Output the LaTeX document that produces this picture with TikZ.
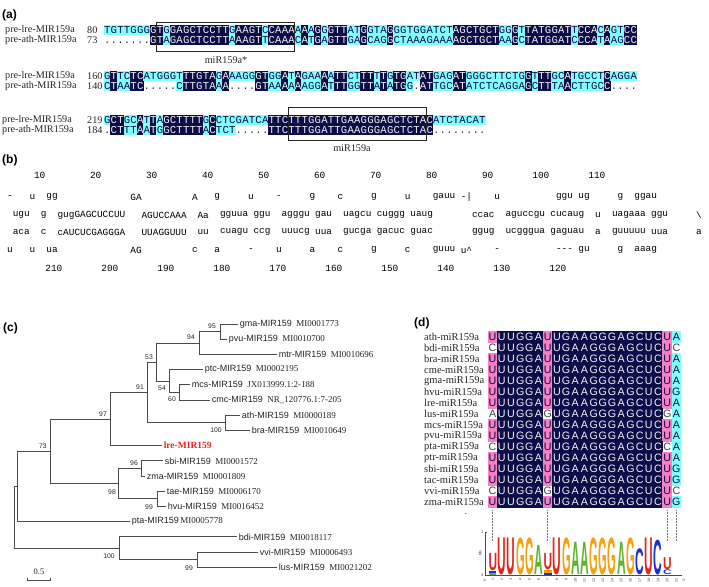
\documentclass[tikz,border=0pt]{standalone}
\usepackage{fontspec}
\usepackage{graphicx}
\usetikzlibrary{calc}
\setmainfont{Liberation Serif}
\setsansfont{Liberation Sans}
\setmonofont{Liberation Mono}
\definecolor{navy}{HTML}{0C0C48}
\definecolor{aq}{HTML}{80FFFF}
\definecolor{pk}{HTML}{F77FC4}
\definecolor{br}{HTML}{4A4A4A}
\definecolor{lgU}{HTML}{E3261C}
\definecolor{lgG}{HTML}{F4A10E}
\definecolor{lgA}{HTML}{5DB52C}
\definecolor{lgC}{HTML}{1F2FD0}
\definecolor{redlab}{HTML}{E8231E}
\newcommand\alpitch{6.58}
\newcommand\alfont{\ttfamily\fontsize{10.6}{10.6}\selectfont}
\newcommand\dtop{337}
\newcommand\dstep{11.0}
\newcommand\AlnCell[8]{%
  \pgfmathsetmacro\alx{#1+(#4-0.5)*\alpitch}%
  \path (\alx,#2) node[cell#7]{#5} (\alx,#3) node[cell#8]{#6};%
}
\newcommand\DCell[4]{%
  \pgfmathsetmacro\dx{488+(#2-0.5)*9.19}%
  \pgfmathsetmacro\dy{\dtop+#1*\dstep}%
  \path (\dx,\dy) node[d#4]{#3};%
}
\newcommand\LogoL[5]{%
  \pgfmathsetmacro\lgx{488+(#1-1)*9.19+0.3}%
  \pgfmathsetmacro\lgy{575-#2*21.5}%
  \pgfmathsetmacro\lgh{#3*21.5}%
  \node[anchor=south west, inner sep=0pt] at (\lgx,\lgy) {\resizebox{8.6pt}{\lgh pt}{\textcolor{#5}{\sffamily\bfseries #4}}};%
}
\newcommand\LogoBar[4]{%
  \pgfmathsetmacro\lgx{488+(#1-1)*9.19+0.8}%
  \pgfmathsetmacro\lgy{575-#2*21.5}%
  \pgfmathsetmacro\lgh{#3*21.5}%
  \fill[#4] (\lgx,\lgy) rectangle ++(7.6,-\lgh);%
}
\ExplSyntaxOn
\tl_new:N \l_al_a_tl
\tl_new:N \l_al_b_tl
\tl_new:N \l_al_ta_tl
\tl_new:N \l_al_tb_tl
\NewDocumentCommand \AlnPair { m m m m m }
 {
   \int_step_inline:nn { \str_count:n {#4} }
    {
      \tl_set:Nx \l_al_a_tl { \str_item:nn {#4} {##1} }
      \tl_set:Nx \l_al_b_tl { \str_item:nn {#5} {##1} }
      \str_if_eq:VnTF \l_al_a_tl {.}
        {
          \tl_set:Nn \l_al_ta_tl {p}
          \str_if_eq:VnTF \l_al_b_tl {.}
            { \tl_set:Nn \l_al_tb_tl {p} }
            { \tl_set:Nn \l_al_tb_tl {c} }
        }
        {
          \str_if_eq:VnTF \l_al_b_tl {.}
            { \tl_set:Nn \l_al_ta_tl {c} \tl_set:Nn \l_al_tb_tl {p} }
            {
              \str_if_eq:VVTF \l_al_a_tl \l_al_b_tl
                { \tl_set:Nn \l_al_ta_tl {n} \tl_set:Nn \l_al_tb_tl {n} }
                { \tl_set:Nn \l_al_ta_tl {c} \tl_set:Nn \l_al_tb_tl {c} }
            }
        }
      \use:x { \exp_not:N \AlnCell {#1} {#2} {#3} {##1} {\l_al_a_tl} {\l_al_b_tl} {\l_al_ta_tl} {\l_al_tb_tl} }
    }
 }
\cs_new_protected:Npn \al_side:
 { \str_if_eq:VnTF \l_al_a_tl {U} { \tl_set:Nn \l_al_ta_tl {k} } { \tl_set:Nn \l_al_ta_tl {w} } }
\cs_new_protected:Npn \al_last:
 { \str_if_eq:VnTF \l_al_a_tl {C} { \tl_set:Nn \l_al_ta_tl {w} } { \tl_set:Nn \l_al_ta_tl {q} } }
\NewDocumentCommand \DRow { m m }
 {
   \int_step_inline:nn {21}
    {
      \tl_set:Nx \l_al_a_tl { \str_item:nn {#2} {##1} }
      \int_case:nnF {##1}
        { {1}{\al_side:} {7}{\al_side:} {20}{\al_side:} {21}{\al_last:} }
        { \tl_set:Nn \l_al_ta_tl {n} }
      \use:x { \exp_not:N \DCell {#1} {##1} {\l_al_a_tl} {\l_al_ta_tl} }
    }
 }
\ExplSyntaxOff
\begin{document}
\begin{tikzpicture}[x=1pt,y=-1pt,
  panel/.style={font=\sffamily\bfseries\fontsize{12}{12}\selectfont, anchor=west, inner sep=0pt},
  cellbase/.style={inner sep=0pt, minimum width=6.98pt, minimum height=10.4pt, text height=6.3pt, text depth=0pt, font=\alfont},
  celln/.style={cellbase, fill=navy, text=white!88!gray},
  cellc/.style={cellbase, fill=aq, text=navy},
  cellp/.style={cellbase, text=black!80},
  seqname/.style={font=\fontsize{10.2}{10.2}\selectfont, anchor=west, inner sep=0pt, text=black!85},
  mirlab/.style={font=\fontsize{10.2}{10.2}\selectfont, inner sep=0pt, text=black!85},
  mirbox/.style={draw=black!85, line width=1pt},
  rna/.style={font=\ttfamily\fontsize{9.4}{9.4}\selectfont, anchor=west, inner sep=0pt, text=black},
  rnanum/.style={font=\ttfamily\fontsize{9.4}{9.4}\selectfont, anchor=east, inner sep=0pt, text=black},
  brl/.style={draw=br, line width=0.75pt},
  leaf/.style={anchor=west, inner sep=1.6pt, text=black!85, font=\fontsize{9}{9}\selectfont},
  boot/.style={font=\sffamily\fontsize{6.8}{6.8}\selectfont, inner sep=0pt, text=black!85},
  dbase/.style={inner sep=0pt, minimum width=9.6pt, minimum height=11.4pt, text height=7.7pt, text depth=0pt, font=\sffamily\fontsize{10.7}{10.7}\selectfont},
  dn/.style={dbase, fill=navy, text=white!90!gray},
  dk/.style={dbase, fill=pk, text=navy},
  dw/.style={dbase, text=black!75},
  dq/.style={dbase, fill=aq, text=navy},
  dname/.style={font=\fontsize{10.5}{10.5}\selectfont, anchor=west, inner sep=0pt, text=black!85},
  tiny/.style={font=\sffamily\fontsize{3.6}{3.6}\selectfont, inner sep=0.4pt, text=black!80}
]
\useasboundingbox (0,0) rectangle (709,586);
\fill[white] (0,0) rectangle (709,586);

%%%%%%%% (a)
\node[panel] (pa) at (2,15) {(a)};
\node[seqname] (n1a) at (5,30) {pre-lre-MIR159a};
\node[seqname] (n1b) at (5,40) {pre-ath-MIR159a};
\node[seqname] (s1a) at (87,30) {80};
\node[seqname] (s1b) at (87,40) {73};
\AlnPair{104}{30}{40}{TGTTGGGGTGGAGCTCCTTGAAGTCCAAAAAAGGGTTATGGTAGGGTGGATCTAGCTGCTGGGTTATGGATTCCACAGTCC}{.......GTAGAGCTCCTTAAAGTTCAAACATGAGTTGAGCAGGCTAAAGAAAAGCTGCTAAGCTATGGATCCCATAAGCC}
\draw[mirbox] (156.6,23) rectangle (294.8,52);
\node[mirlab] (star) at (226,60) {miR159a*};

\node[seqname] (n2a) at (5,76) {pre-lre-MIR159a};
\node[seqname] (n2b) at (5,86) {pre-ath-MIR159a};
\node[seqname] (s2a) at (87,76) {160};
\node[seqname] (s2b) at (87,86) {140};
\AlnPair{104}{76}{86}{GTTCTCATGGGTTTGTAGAAAGGGTGGATAGAAAATTCTTTTTGTGATATGAGATGGGCTTCTGGTTTGCATGCCTCAGGA}{CTAATC.....CTTGTAAA....GTAAAAAAGGATTTGGTTATATGG.ATTGCATATCTCAGGAGCTTTAACTTGCC....}

\node[seqname] (n3a) at (2,120) {pre-lre-MIR159a};
\node[seqname] (n3b) at (2,130) {pre-ath-MIR159a};
\node[seqname] (s3a) at (87,120) {219};
\node[seqname] (s3b) at (87,130) {184};
\AlnPair{104}{120}{130}{GCTGCATTAGCTTTTGCCTCGATCATTCTTTGGATTGAAGGGAGCTCTACATCTACAT}{.CTTTAATGGCTTTTACTCT.....TTCTTTGGATTGAAGGGAGCTCTAC........}
\draw[mirbox] (288.2,107) rectangle (426.4,140);
\node[mirlab] (mat) at (352,148) {miR159a};

%%%%%%%% (b)
\node[panel] (pb) at (2,160) {(b)};
\foreach \v [count=\k from 0] in {10,20,...,110}
  \node[rnanum] (tn\v) at ({45.5+56*\k},175) {\v};
\foreach \v [count=\k from 0] in {210,200,...,120}
  \node[rnanum] (bn\v) at ({62.5+56*\k},268) {\v};
\foreach \c/\t in {0/-,4/u,7/gg,22/GA,33/A,37/g,43/u,48/-,54/g,59/c,65/g,71/u,76/gauu,81/-|,87/u,98/ggu,102/ug,109/g,112/ggau}
  \node[rna] (ra\c) at ({7+\c*5.6},197) {\t};
\foreach \c/\t in {1/ugu,6/g,9/gugGAGCUCCUU,24/AGUCCAAA,34/Aa,38/gguua,44/ggu,49/agggu,55/gau,60/uagcu,66/cuggg,72/uaug,83/ccac,89/aguccgu,97/cucaug,105/u,108/uagaaa,115/ggu,123/\textbackslash}
  \node[rna] (rb\c) at ({7+\c*5.6},215) {\t};
\foreach \c/\t in {1/aca,6/c,9/cAUCUCGAGGGA,24/UUAGGUUU,34/uu,38/cuagu,44/ccg,49/uuucg,55/uua,60/gucga,66/gacuc,72/guac,83/ggug,89/ucgggua,97/gaguau,105/a,108/guuuuu,115/uua,123/a}
  \node[rna] (rc\c) at ({7+\c*5.6},232) {\t};
\foreach \c/\t in {0/u,4/u,7/ua,22/AG,33/c,37/a,43/-,48/u,54/a,59/c,65/g,71/c,76/guuu,81/u\textasciicircum,87/-,98/-{}-{}-,102/gu,109/g,112/aaag}
  \node[rna] (rd\c) at ({7+\c*5.6},250) {\t};

%%%%%%%% (c)
\node[panel] (pc) at (3,328) {(c)};
\coordinate (gma) at (238,324.0);
\coordinate (pvu) at (227,339.2);
\coordinate (mtr) at (277,354.4);
\coordinate (ptc) at (203,369.6);
\coordinate (mcs) at (190,384.8);
\coordinate (cmc) at (210,400.0);
\coordinate (ath) at (240,415.2);
\coordinate (bra) at (250,430.4);
\coordinate (lre) at (162,445.6);
\coordinate (sbi) at (163,460.8);
\coordinate (zma) at (145,476.0);
\coordinate (tae) at (165,491.2);
\coordinate (hvu) at (166,506.4);
\coordinate (pta) at (130,521.6);
\coordinate (bdi) at (237,536.8);
\coordinate (vvi) at (258,552.0);
\coordinate (lus) at (277,567.2);
\coordinate (n95) at (220,331.6);
\coordinate (n94) at (199,343.0);
\coordinate (n60) at (179,392.4);
\coordinate (n54) at (169,381.0);
\coordinate (n53) at (156,362.0);
\coordinate (n100a) at (225,422.8);
\coordinate (n91) at (147,392.4);
\coordinate (n97) at (110,419.0);
\coordinate (n96) at (141,468.4);
\coordinate (n99a) at (157,498.8);
\coordinate (n98) at (118,483.6);
\coordinate (n73) at (50,451.3);
\coordinate (nX) at (17,486.5);
\coordinate (n99b) at (197,559.6);
\coordinate (n100b) at (119,548.2);
\coordinate (root) at (14,517.3);
\foreach \p/\a/\b in {n95/gma/pvu, n94/n95/mtr, n60/mcs/cmc, n54/ptc/n60, n53/n94/n54, n100a/ath/bra, n91/n53/n100a, n97/n91/lre, n96/sbi/zma, n99a/tae/hvu, n98/n96/n99a, n73/n97/n98, nX/n73/pta, n99b/vvi/lus, n100b/bdi/n99b, root/nX/n100b}
  \draw[brl] (\p) |- (\a) (\p) |- (\b);
\newcommand\lf[2]{{\sffamily #1}\hspace{4.5pt}{\rmfamily #2}}
\node[leaf] (lgma) at (gma) {\lf{gma-MIR159}{MI0001773}};
\node[leaf] (lpvu) at (pvu) {\lf{pvu-MIR159}{MI0010700}};
\node[leaf] (lmtr) at (mtr) {\lf{mtr-MIR159}{MI0010696}};
\node[leaf] (lptc) at (ptc) {\lf{ptc-MIR159}{MI0002195}};
\node[leaf] (lmcs) at (mcs) {\lf{mcs-MIR159}{JX013999.1:2-188}};
\node[leaf] (lcmc) at (cmc) {\lf{cmc-MIR159}{NR\_120776.1:7-205}};
\node[leaf] (lath) at (ath) {\lf{ath-MIR159}{MI0000189}};
\node[leaf] (lbra) at (bra) {\lf{bra-MIR159}{MI0010649}};
\node[leaf, text=redlab, font=\bfseries\fontsize{9.5}{9.5}\selectfont] (llre) at (lre) {lre-MIR159};
\node[leaf] (lsbi) at (sbi) {\lf{sbi-MIR159}{MI0001572}};
\node[leaf] (lzma) at (zma) {\lf{zma-MIR159}{MI0001809}};
\node[leaf] (ltae) at (tae) {\lf{tae-MIR159}{MI0006170}};
\node[leaf] (lhvu) at (hvu) {\lf{hvu-MIR159}{MI0016452}};
\node[leaf] (lpta) at (pta) {{\sffamily pta-MIR159}\hspace{1.5pt}{\rmfamily MI0005778}};
\node[leaf] (lbdi) at (bdi) {\lf{bdi-MIR159}{MI0018117}};
\node[leaf] (lvvi) at (vvi) {\lf{vvi-MIR159}{MI0006493}};
\node[leaf] (llus) at (lus) {\lf{lus-MIR159}{MI0021202}};
\node[boot] (b95) at (212,326) {95};
\node[boot] (b94) at (191,337) {94};
\node[boot] (b53) at (149,357) {53};
\node[boot] (b54) at (162,388) {54};
\node[boot] (b60) at (172,399) {60};
\node[boot] (b91) at (140,387) {91};
\node[boot] (b97) at (103,414) {97};
\node[boot] (b100a) at (216,430) {100};
\node[boot] (b73) at (43,446) {73};
\node[boot] (b96) at (134,463) {96};
\node[boot] (b98) at (112,492) {98};
\node[boot] (b99a) at (149,507) {99};
\node[boot] (b100b) at (109,556) {100};
\node[boot] (b99b) at (189,568) {99};
\coordinate (sb1) at (27,580);
\coordinate (sb2) at (50,580);
\draw[brl, line width=0.6pt] ($(sb1)+(0,-2.5)$) -- (sb1) -- (sb2) -- ($(sb2)+(0,-2.5)$);
\node[font=\fontsize{8.5}{8.5}\selectfont, inner sep=0pt, text=black!85] (sbl) at (39,572) {0.5};

%%%%%%%% (d)
\node[panel] (pd) at (414,323) {(d)};
\foreach \n [count=\i from 0] in {ath,bdi,bra,cme,gma,hvu,lre,lus,mcs,pvu,pta,ptr,sbi,tac,vvi,zma}
  \node[dname] (dn\i) at (424,{\dtop+\i*\dstep}) {\n-miR159a};
\DRow{0}{UUUGGAUUGAAGGGAGCUCUA}
\DRow{1}{CUUGGAUUGAAGGGAGCUCUC}
\DRow{2}{UUUGGAUUGAAGGGAGCUCUA}
\DRow{3}{UUUGGAUUGAAGGGAGCUCUA}
\DRow{4}{UUUGGAUUGAAGGGAGCUCUA}
\DRow{5}{UUUGGAUUGAAGGGAGCUCUG}
\DRow{6}{UUUGGAUUGAAGGGAGCUCUA}
\DRow{7}{AUUGGAGUGAAGGGAGCUCGA}
\DRow{8}{UUUGGAUUGAAGGGAGCUCUA}
\DRow{9}{UUUGGAUUGAAGGGAGCUCUA}
\DRow{10}{CUUGGAUUGAAGGGAGCUCCA}
\DRow{11}{UUUGGAUUGAAGGGAGCUCUA}
\DRow{12}{UUUGGAUUGAAGGGAGCUCUG}
\DRow{13}{UUUGGAUUGAAGGGAGCUCUG}
\DRow{14}{CUUGGAGUGAAGGGAGCUCUC}
\DRow{15}{UUUGGAUUGAAGGGAGCUCUG}
\node[font=\fontsize{9}{9}\selectfont, inner sep=0pt] (ddot) at (466,514) {.};
\foreach \j in {1,7,20,21}
  \draw[densely dotted, black!55, line width=0.5pt] ({488+(\j-0.5)*9.19},510) -- ({488+(\j-0.5)*9.19},541);
\LogoBar{1}{0}{0.08}{lgA}\LogoBar{1}{0.08}{0.1}{lgC}\LogoL{1}{0.2}{0.8}{U}{lgU}
\LogoL{2}{0}{1.7}{U}{lgU}\LogoL{3}{0}{1.7}{U}{lgU}\LogoL{4}{0}{1.7}{G}{lgG}\LogoL{5}{0}{1.7}{G}{lgG}
\LogoL{6}{0}{1.35}{A}{lgA}
\LogoBar{7}{0}{0.1}{lgC}\LogoBar{7}{0.1}{0.12}{lgG}\LogoL{7}{0.24}{0.75}{U}{lgU}
\LogoL{8}{0}{1.7}{U}{lgU}\LogoL{9}{0}{1.7}{G}{lgG}\LogoL{10}{0}{1.5}{A}{lgA}\LogoL{11}{0}{1.5}{A}{lgA}
\LogoL{12}{0}{1.7}{G}{lgG}\LogoL{13}{0}{1.7}{G}{lgG}\LogoL{14}{0}{1.7}{G}{lgG}\LogoL{15}{0}{1.5}{A}{lgA}
\LogoL{16}{0}{1.7}{G}{lgG}\LogoL{17}{0}{1.2}{C}{lgC}\LogoL{18}{0}{1.7}{U}{lgU}\LogoL{19}{0}{1.6}{C}{lgC}
\LogoL{20}{0}{0.22}{C}{lgC}\LogoL{20}{0.26}{0.55}{U}{lgU}
\coordinate (ax0) at (485,575);
\coordinate (ax2) at (485,532);
\draw[black!70, line width=0.4pt] (ax2) -- (ax0) -- (682,575);
\draw[black!70, line width=0.4pt] (ax2) -- ++(2,0) (ax0) -- ++(2,0);
\node[tiny, anchor=east] (t2) at (484,532) {2};
\node[tiny, anchor=east] (t0) at (484,575) {0};
\node[tiny, rotate=90] (tbits) at (480,553) {bits};
\foreach \j in {1,...,21}
  \node[tiny, rotate=90, anchor=east] (xn\j) at ({488+(\j-0.5)*9.19},578) {\j};
\node[tiny, rotate=90, anchor=east] (t5) at (485,578) {5'};
\node[tiny, rotate=90, anchor=east] (t3) at (684,578) {3'};
\end{tikzpicture}
\end{document}
